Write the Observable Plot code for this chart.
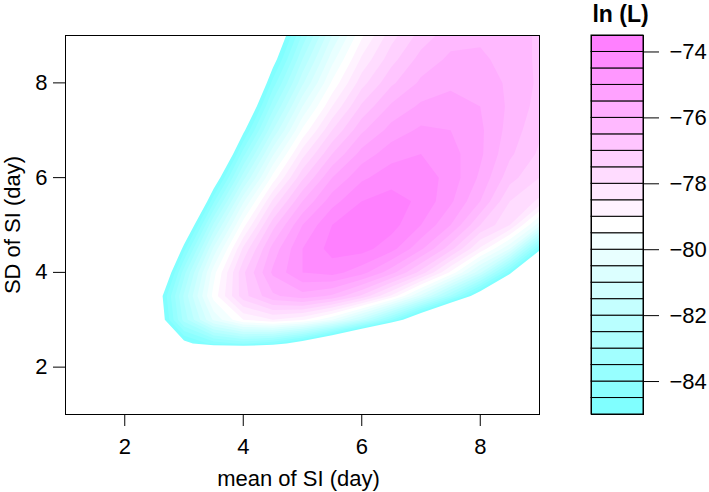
<!DOCTYPE html>
<html><head>
<meta charset="utf-8">
<script src="https://cdn.jsdelivr.net/npm/d3@7"></script>
<script src="https://cdn.jsdelivr.net/npm/@observablehq/plot@0.6"></script>
<style>
body{margin:0;background:#fff;}
#wrap{display:flex;width:709px;height:492px;}
svg{display:block}
</style>
</head><body><div id="wrap"></div>
<script>
// grid columns: mean of SI (day)
const meanSI = [1,1.5,2,2.5,3,3.5,4,4.5,5,5.5,6,6.5,7,7.5,8,8.5,9];
// grid rows (top to bottom): SD of SI (day)
const sdSI = [9,8.5,8,7.5,7,6.5,6,5.5,5,4.5,4,3.5,3,2.5,2,1.5,1];
// ln(L) on the grid, one row per sdSI value, one column per meanSI value
const lnL = [
 [-95,-95,-95,-95,-95,-93.7,-89.8,-86.3,-83.4,-81.0,-79.1,-77.7,-76.8,-76.2,-76.1,-76.2,-76.6],
 [-95,-95,-95,-95,-95,-92.8,-88.8,-85.4,-82.5,-80.2,-78.4,-77.2,-76.3,-75.9,-75.9,-76.2,-76.6],
 [-95,-95,-95,-95,-95,-91.7,-87.7,-84.3,-81.6,-79.4,-77.7,-76.6,-75.9,-75.6,-75.7,-76.1,-76.6],
 [-95,-95,-95,-95,-94.7,-90.4,-86.5,-83.2,-80.5,-78.5,-76.9,-75.9,-75.4,-75.3,-75.5,-76.1,-76.7],
 [-95,-95,-95,-95,-93.3,-89.0,-85.2,-82.0,-79.4,-77.5,-76.1,-75.3,-74.9,-75.0,-75.4,-76.2,-76.9],
 [-95,-95,-95,-95,-91.8,-87.5,-83.7,-80.6,-78.2,-76.5,-75.3,-74.7,-74.5,-74.8,-75.4,-76.4,-77.1],
 [-95,-95,-95,-94.7,-90.1,-85.8,-82.2,-79.3,-77.1,-75.5,-74.6,-74.2,-74.2,-74.7,-75.6,-76.8,-77.5],
 [-95,-95,-95,-92.9,-88.3,-84.1,-80.6,-77.9,-76.0,-74.7,-74.0,-73.8,-74.1,-74.9,-76.0,-77.5,-78.1],
 [-95,-95,-95,-91.0,-86.4,-82.4,-79.2,-76.7,-75.0,-74.0,-73.7,-73.8,-74.5,-75.5,-77.0,-78.0,-80.3],
 [-95,-95,-95,-89.1,-84.7,-80.9,-77.9,-75.8,-74.5,-73.8,-73.8,-74.3,-75.4,-76.8,-78.6,-80.5,-84.6],
 [-95,-95,-95,-87.4,-83.2,-79.7,-77.1,-75.4,-74.5,-74.3,-74.8,-75.8,-77.2,-79.1,-81.4,-84.7,-89.5],
 [-95,-95,-95,-86.0,-82.4,-79.3,-77.2,-76.1,-75.7,-76.1,-77.1,-78.6,-80.7,-83.1,-85.9,-89.0,-95],
 [-95,-95,-95,-86.2,-82.8,-80.4,-79.0,-78.5,-78.9,-80.0,-81.7,-83.9,-86.7,-89.8,-93.2,-95,-95],
 [-95,-95,-95,-88.4,-85.3,-84.3,-83.9,-84.4,-85.7,-87.7,-90.3,-93.5,-95,-95,-95,-95,-95],
 [-95,-95,-95,-95,-94.1,-93.9,-94.8,-95,-95,-95,-95,-95,-95,-95,-95,-95,-95],
 [-95,-95,-95,-95,-95,-95,-95,-95,-95,-95,-95,-95,-95,-95,-95,-95,-95],
 [-95,-95,-95,-95,-95,-95,-95,-95,-95,-95,-95,-95,-95,-95,-95,-95,-95]
];
// contour levels (band edges) and cm.colors(23) palette, one colour per band
const levels = [-85,-84.5,-84,-83.5,-83,-82.5,-82,-81.5,-81,-80.5,-80,-79.5,-79,-78.5,-78,-77.5,-77,-76.5,-76,-75.5,-75,-74.5,-74,-73.5];
const palette = ["#80FFFF","#8BFFFF","#97FFFF","#A2FFFF","#AEFFFF","#B9FFFF","#C5FFFF","#D1FFFF","#DCFFFF","#E8FFFF","#F3FFFF","#FFFFFF",
                 "#FFF3FF","#FFE8FF","#FFDCFF","#FFD1FF","#FFC5FF","#FFB9FF","#FFAEFF","#FFA2FF","#FF97FF","#FF8BFF","#FF80FF"];
const xTicks = [2,4,6,8];
const yTicks = [2,4,6,8];
const legendTicks = [-84,-82,-80,-78,-76,-74];
const xLabel = "mean of SI (day)";
const yLabel = "SD of SI (day)";
const legendTitle = "ln (L)";

const font = "'Liberation Sans', Arial, Helvetica, sans-serif";
const FS = 22;
const zFlat = lnL.flat();
const dxCell = meanSI[1] - meanSI[0];
const dyCell = sdSI[0] - sdSI[1];
const H = 492, MT = 35, MB = 78;

const main = Plot.plot({
  width: 575, height: H,
  marginLeft: 65, marginRight: 36, marginTop: MT, marginBottom: MB,
  style: {fontFamily: font, fontSize: FS + "px", color: "black", background: "white"},
  x: {domain: [meanSI[0], meanSI[meanSI.length-1]], axis: null},
  y: {domain: [sdSI[sdSI.length-1], sdSI[0]], axis: null},
  color: {type: "ordinal", domain: levels.slice(0, -1), range: palette},
  marks: [
    Plot.contour(zFlat, {
      width: meanSI.length, height: sdSI.length,
      x1: meanSI[0] - dxCell/2, x2: meanSI[meanSI.length-1] + dxCell/2,
      y1: sdSI[0] + dyCell/2, y2: sdSI[sdSI.length-1] - dyCell/2,
      fill: Plot.identity, thresholds: levels, clip: true
    }),
    Plot.frame({stroke: "black", strokeWidth: 1}),
    Plot.axisX({ticks: xTicks, tickSize: 12, tickPadding: 12, label: null, fontSize: FS}),
    Plot.axisY({ticks: yTicks, tickSize: 12, tickPadding: 6, label: null, fontSize: FS}),
    Plot.text([xLabel], {text: d => d, frameAnchor: "bottom", dy: 71, dx: -4, lineAnchor: "bottom", fontSize: FS}),
    Plot.text([yLabel], {text: d => d, frameAnchor: "left", dx: -46, rotate: -90, lineAnchor: "bottom", textAnchor: "middle", fontSize: FS})
  ]
});

const bands = levels.slice(0, -1).map((lo, i) => ({lo, hi: levels[i+1], color: palette[i]}));
const legend = Plot.plot({
  width: 134, height: H,
  marginLeft: 16, marginRight: 66, marginTop: MT, marginBottom: MB,
  style: {fontFamily: font, fontSize: FS + "px", color: "black", background: "white", overflow: "visible"},
  x: {domain: [0, 1], axis: null},
  y: {domain: [levels[0], levels[levels.length-1]], axis: null},
  color: {type: "identity"},
  marks: [
    Plot.rect(bands, {x1: () => 0, x2: () => 1, y1: "lo", y2: "hi", fill: "color", stroke: "black", strokeWidth: 1}),
    Plot.frame({stroke: "black", strokeWidth: 1}),
    Plot.axisY({anchor: "right", ticks: legendTicks, tickSize: 15, tickPadding: 11, label: null, fontSize: FS}),
    Plot.text([legendTitle], {text: d => d, frameAnchor: "top", dy: -14, dx: 3, lineAnchor: "bottom", fontWeight: "bold", fontSize: 23})
  ]
});

document.getElementById("wrap").append(main, legend);
</script></body></html>
